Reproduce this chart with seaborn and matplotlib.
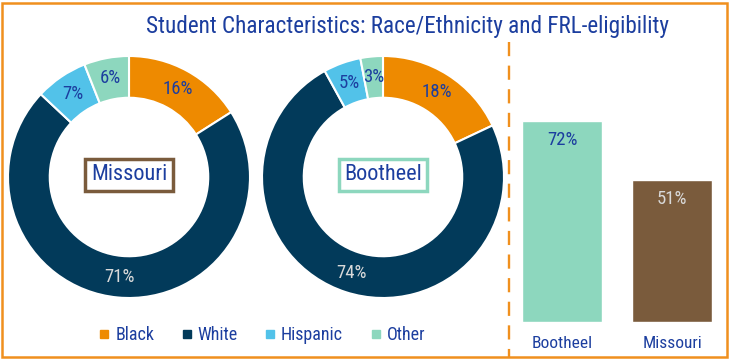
import numpy as np
import pandas as pd
import matplotlib
matplotlib.use("Agg")
import matplotlib.pyplot as plt
from matplotlib.patches import Rectangle
from matplotlib.lines import Line2D
import seaborn as sns

# ---- data ----
races = ["Black", "White", "Hispanic", "Other"]
missouri_pct = [16, 71, 7, 6]
bootheel_pct = [18, 74, 5, 3]
frl_regions = ["Bootheel", "Missouri"]
frl_pct = [72, 51]

# ---- style ----
race_colors = ["#EE8A00", "#023A5A", "#52C2E9", "#8DD7BE"]
region_colors = {"Bootheel": "#8DD7BE", "Missouri": "#7A5B3C"}
TXT = "#1C3E9F"
LIGHT = "#D9D9D9"
ORANGE = "#F0901E"

sns.set_theme(style="white")
FONT = ["Roboto Condensed", "Archivo Narrow", "DejaVu Sans"]
plt.rcParams["font.family"] = FONT

W, H = 730, 360
fig = plt.figure(figsize=(W / 100, H / 100), dpi=100)


def px_axes(x0, y0, x1, y1):
    """axes from pixel box (top-left origin)"""
    return fig.add_axes([x0 / W, 1 - y1 / H, (x1 - x0) / W, (y1 - y0) / H])


def donut(ax, values, label_colors, center_label, box_color):
    wedges, _ = ax.pie(values, colors=race_colors, startangle=90,
                       counterclock=False, radius=1.0,
                       wedgeprops=dict(width=0.345, edgecolor="white", linewidth=1.5))
    ax.set_xlim(-1, 1)
    ax.set_ylim(-1, 1)
    ax.set_aspect("equal")
    ax.axis("off")
    for w, v, c in zip(wedges, values, label_colors):
        ang = np.deg2rad((w.theta1 + w.theta2) / 2)
        r = 0.83
        ax.text(r * np.cos(ang), r * np.sin(ang), f"{v}%", ha="center", va="center",
                fontsize=13.5, color=c)
    ax.text(0, 0.02, center_label, ha="center", va="center", fontsize=16, color=TXT,
            bbox=dict(boxstyle="square,pad=0.25", facecolor="white",
                      edgecolor=box_color, linewidth=2.5))


lab_cols = [TXT, LIGHT, TXT, TXT]
ax1 = px_axes(8, 56, 250, 298)
donut(ax1, missouri_pct, lab_cols, "Missouri", region_colors["Missouri"])
ax2 = px_axes(262, 56, 504, 298)
donut(ax2, bootheel_pct, lab_cols, "Bootheel", region_colors["Bootheel"])

# ---- bar chart ----
df = pd.DataFrame({"region": frl_regions, "pct": frl_pct})
axb = px_axes(507, 99, 727, 322)
sns.barplot(data=df, x="region", y="pct", hue="region", palette=region_colors,
            width=0.727, legend=False, ax=axb, saturation=1)
axb.set_xlim(-0.5, 1.5)
axb.set_ylim(0, 80)
axb.set_xlabel("")
axb.set_ylabel("")
axb.set_yticks([])
for s in axb.spines.values():
    s.set_visible(False)
axb.tick_params(axis="x", length=0, pad=10, labelsize=12.5, labelcolor=TXT)
for lbl in axb.get_xticklabels():
    lbl.set_family(FONT)
axb.patch.set_alpha(0)
for i, (v, reg) in enumerate(zip(frl_pct, frl_regions)):
    axb.text(i, v - 6.8, f"{v}%", ha="center", va="center", fontsize=13.5,
             color=TXT if reg == "Bootheel" else LIGHT)

# ---- title ----
fig.text(408 / W, 1 - 27 / H, "Student Characteristics: Race/Ethnicity and FRL-eligibility",
         ha="center", va="center", fontsize=16.7, color=TXT)

# ---- legend ----
handles = [Line2D([0], [0], marker="s", linestyle="", markersize=5.5,
                  markerfacecolor=c, markeredgecolor=c) for c in race_colors]
fig.legend(handles, races, loc="center", bbox_to_anchor=(262 / W, 1 - 335 / H),
           ncol=4, frameon=False, fontsize=13, labelcolor=TXT,
           handletextpad=0.3, columnspacing=1.5, handlelength=0.6)

# ---- dashed separator & border ----
fig.add_artist(Line2D([509 / W, 509 / W], [1 - 42 / H, 1 - 357 / H], color=ORANGE,
                      linewidth=1.7, linestyle=(0, (6, 4)), transform=fig.transFigure))
fig.add_artist(Rectangle((2 / W, 3 / H), 725 / W, 354 / H, transform=fig.transFigure,
                         fill=False, edgecolor=ORANGE, linewidth=1.8))

fig.savefig("out.png", dpi=100)
